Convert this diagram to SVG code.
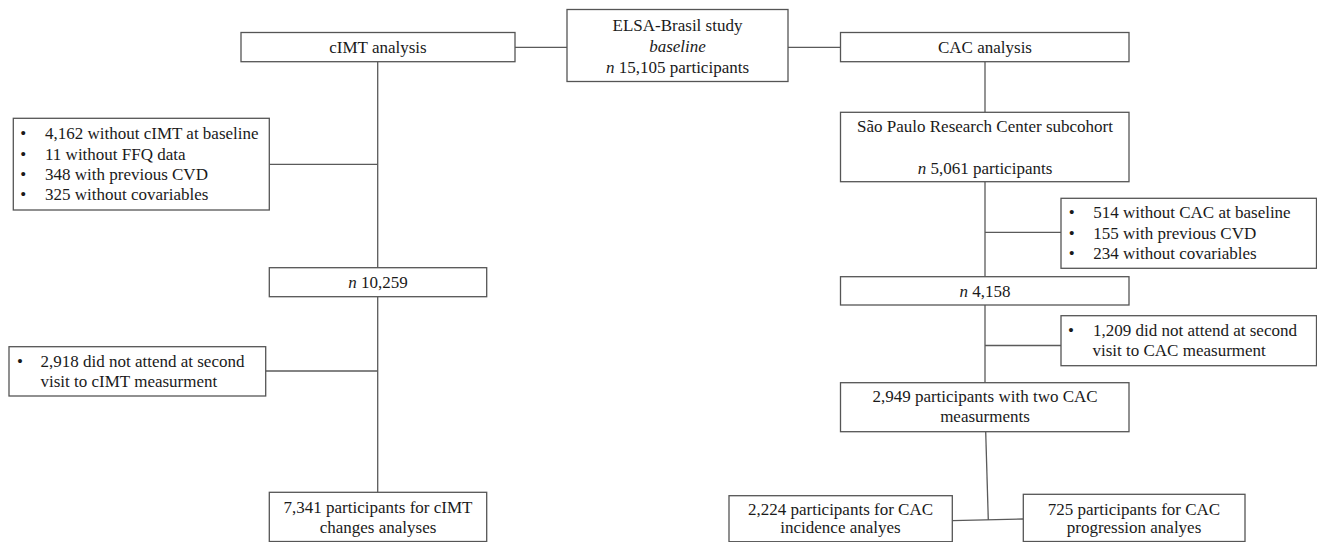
<svg xmlns="http://www.w3.org/2000/svg" width="1317" height="542" viewBox="0 0 1317 542">
<style>
.box{fill:#ffffff;stroke:#555555;stroke-width:1.3}
.ln{fill:none;stroke:#5a5a5a;stroke-width:1.3}
text{font-family:"Liberation Serif","Times New Roman",serif;font-size:17px;fill:#1a1a1a}
.c{text-anchor:middle}
.b{text-anchor:middle}
.i{font-style:italic}
</style>
<rect x="0" y="0" width="1317" height="542" fill="#ffffff"/>
<g id="connectors">
<line class="ln" x1="515" y1="47.3" x2="567" y2="47.3"/>
<line class="ln" x1="788" y1="47.3" x2="840.5" y2="47.3"/>
<line class="ln" x1="377.7" y1="61.7" x2="377.7" y2="267.7"/>
<line class="ln" x1="377.7" y1="296.7" x2="377.7" y2="492.3"/>
<line class="ln" x1="269.3" y1="164.3" x2="377.7" y2="164.3"/>
<line class="ln" x1="265.7" y1="371" x2="377.7" y2="371"/>
<line class="ln" x1="985" y1="61.7" x2="985" y2="112.3"/>
<line class="ln" x1="985" y1="181.7" x2="985" y2="276.7"/>
<line class="ln" x1="985" y1="305" x2="985" y2="382.7"/>
<line class="ln" x1="985" y1="232.3" x2="1061" y2="232.3"/>
<line class="ln" x1="985" y1="345.5" x2="1061" y2="345.5"/>
<line class="ln" x1="985.7" y1="431.7" x2="988.3" y2="520"/>
<line class="ln" x1="952.3" y1="520.7" x2="1023.3" y2="519"/>
</g>
<g id="elsa">
<rect class="box" x="567" y="9.5" width="221" height="72"/>
<text class="c" x="677.5" y="30.5">ELSA-Brasil study</text>
<text class="c i" x="677.5" y="51.5">baseline</text>
<text class="c" x="677.5" y="72.5"><tspan class="i">n</tspan> 15,105 participants</text>
</g>
<g id="cimt">
<rect class="box" x="241" y="32.5" width="274" height="29.2"/>
<text class="c" x="378" y="52.5">cIMT analysis</text>
</g>
<g id="cac">
<rect class="box" x="840.5" y="32.5" width="288.5" height="29.2"/>
<text class="c" x="985" y="52.5">CAC analysis</text>
</g>
<g id="saopaulo">
<rect class="box" x="840.5" y="112.3" width="288.5" height="69.4"/>
<text class="c" x="985" y="132">São Paulo Research Center subcohort</text>
<text class="c" x="985" y="173.5"><tspan class="i">n</tspan> 5,061 participants</text>
</g>
<g id="excl-cimt-1">
<rect class="box" x="13.3" y="118.3" width="256" height="91.7"/>
<text class="b" x="23.3" y="139">•</text><text x="45" y="139">4,162 without cIMT at baseline</text>
<text class="b" x="23.3" y="159.5">•</text><text x="45" y="159.5">11 without FFQ data</text>
<text class="b" x="23.3" y="180">•</text><text x="45" y="180">348 with previous CVD</text>
<text class="b" x="23.3" y="200.3">•</text><text x="45" y="200.3">325 without covariables</text>
</g>
<g id="n10259">
<rect class="box" x="269.3" y="267.7" width="217.4" height="29"/>
<text class="c" x="378" y="288.3"><tspan class="i">n</tspan> 10,259</text>
</g>
<g id="excl-cimt-2">
<rect class="box" x="9" y="346.7" width="256.7" height="49.3"/>
<text class="b" x="20" y="366.7">•</text><text x="40.5" y="366.7">2,918 did not attend at second</text>
<text x="40.5" y="386.7">visit to cIMT measurment</text>
</g>
<g id="cimt-final">
<rect class="box" x="269.3" y="492.3" width="217.4" height="49.2"/>
<text class="c" x="378" y="513.3">7,341 participants for cIMT</text>
<text class="c" x="378" y="532.5">changes analyses</text>
</g>
<g id="excl-cac-1">
<rect class="box" x="1061" y="198.3" width="255.5" height="70"/>
<text class="b" x="1071.7" y="218.3">•</text><text x="1093.3" y="218.3">514 without CAC at baseline</text>
<text class="b" x="1071.7" y="238.7">•</text><text x="1093.3" y="238.7">155 with previous CVD</text>
<text class="b" x="1071.7" y="259">•</text><text x="1093.3" y="259">234 without covariables</text>
</g>
<g id="n4158">
<rect class="box" x="840.5" y="276.7" width="288.5" height="28.3"/>
<text class="c" x="985" y="297.3"><tspan class="i">n</tspan> 4,158</text>
</g>
<g id="excl-cac-2">
<rect class="box" x="1061" y="315.7" width="255.5" height="50"/>
<text class="b" x="1071" y="336">•</text><text x="1093" y="336">1,209 did not attend at second</text>
<text x="1092.5" y="356">visit to CAC measurment</text>
</g>
<g id="cac-two">
<rect class="box" x="840.5" y="382.7" width="288.5" height="49"/>
<text class="c" x="985" y="402.3">2,949 participants with two CAC</text>
<text class="c" x="985" y="422.3">measurments</text>
</g>
<g id="cac-incidence">
<rect class="box" x="729" y="495.7" width="223.3" height="46"/>
<text class="c" x="840.5" y="515">2,224 participants for CAC</text>
<text class="c" x="840.5" y="533.3">incidence analyes</text>
</g>
<g id="cac-progression">
<rect class="box" x="1023.3" y="494.3" width="221.7" height="47.2"/>
<text class="c" x="1134" y="515">725 participants for CAC</text>
<text class="c" x="1134" y="533.3">progression analyes</text>
</g>
</svg>
